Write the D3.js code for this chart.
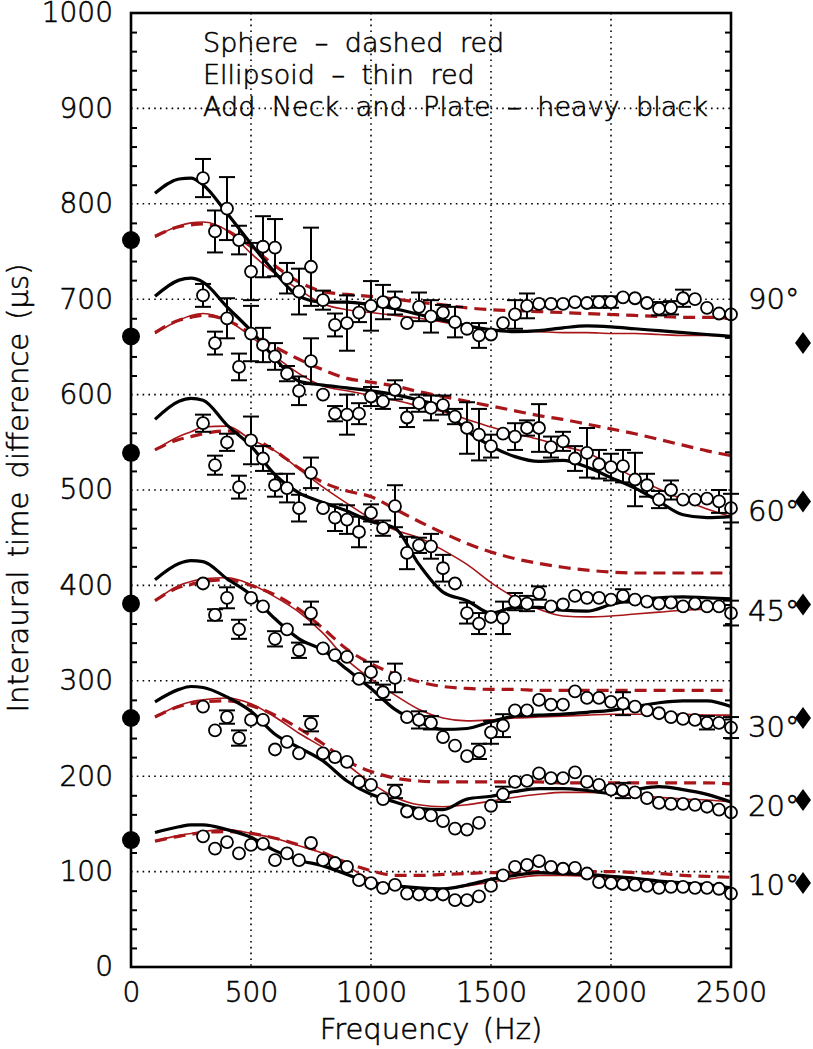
<!DOCTYPE html>
<html>
<head>
<meta charset="utf-8">
<script src="https://cdn.jsdelivr.net/npm/d3@7"></script>
<style>
  body { margin: 0; background: #fff; }
  text { font-family: "DejaVu Sans", sans-serif; font-weight: 200; fill: #000; stroke: #000; stroke-width: 0.55px; }
</style>
</head>
<body>
<div id="chart"></div>
<script>
// model curves sampled at these frequencies (Hz)
const modelFreq = [100, 200, 250, 300, 400, 500, 600, 700, 800, 900, 1000, 1100, 1200, 1300, 1400, 1500, 1600, 1700, 1800, 1900, 2000, 2100, 2200, 2300, 2400, 2500];
// measured points
const dataFreq = [300, 350, 400, 450, 500, 550, 600, 650, 700, 750, 800, 850, 900, 950, 1000, 1050, 1100, 1150, 1200, 1250, 1300, 1350, 1400, 1450, 1500, 1550, 1600, 1650, 1700, 1750, 1800, 1850, 1900, 1950, 2000, 2050, 2100, 2150, 2200, 2250, 2300, 2350, 2400, 2450, 2500];

const angles = ["90°", "60°", "45°", "30°", "20°", "10°"];

// heavy black: ellipsoid + neck and plate
const neck90 = [811, 826, 827, 820, 790, 758, 728, 703, 697, 697, 694, 690, 684, 678, 672, 668, 666, 667, 670, 672, 671, 669, 667, 665, 663, 661];
const neck60 = [703, 720, 722, 718, 692, 667, 638, 614, 610, 607, 604, 600, 594, 586, 562, 546, 535, 530, 531, 524, 513, 502, 488, 474, 471, 472];
const neck45 = [574, 593, 596, 594, 568, 546, 516, 497, 487, 478, 467, 460, 422, 393, 384, 371, 377, 377, 374, 373, 380, 385, 387, 388, 387, 386];
const neck30 = [406, 423, 426, 425, 407, 390, 365, 344, 332, 312, 292, 270, 257, 249, 250, 257, 263, 264, 265, 267, 269, 273, 277, 279, 279, 273];
const neck20 = [278, 291, 294, 293, 283, 268, 244, 230, 216, 195, 181, 173, 166, 165, 176, 179, 184, 187, 187, 185, 182, 186, 189, 186, 181, 173];
const neck10 = [141, 147, 149, 149, 144, 136, 122, 112, 106, 97, 88, 85, 83, 82, 86, 92, 96, 99, 98, 97, 95, 93, 90, 88, 86, 83];

// thin red: ellipsoid
const ellip90 = [765, 777, 780, 781, 772, 748, 727, 710, 695, 689, 686, 683, 680, 676, 672, 668, 667, 666, 665, 665, 664, 664, 663, 662, 662, 661];
const ellip60 = [664, 678, 683, 685, 678, 661, 640, 622, 609, 604, 599, 594, 588, 582, 574, 566, 559, 553, 546, 539, 526, 513, 501, 490, 480, 472];
const ellip45 = [542, 556, 561, 566, 567, 553, 541, 522, 503, 486, 470, 458, 450, 437, 422, 403, 387, 375, 368, 367, 368, 370, 372, 374, 375, 376];
const ellip30 = [384, 400, 404, 407, 408, 401, 388, 372, 350, 322, 302, 285, 270, 261, 258, 259, 261, 262, 263, 264, 265, 265, 265, 265, 264, 264];
const ellip20 = [262, 274, 278, 280, 282, 276, 262, 245, 230, 212, 193, 178, 170, 168, 170, 174, 178, 181, 183, 183, 182, 180, 178, 176, 175, 173];
const ellip10 = [132, 138, 140, 142, 144, 140, 135, 127, 119, 106, 91, 85, 83, 82, 85, 89, 93, 96, 96, 95, 93, 90, 87, 85, 84, 82];

// dashed red: sphere
const sphere90 = [766, 776, 778, 779, 772, 755, 735, 718, 708, 705, 703, 700, 697, 694, 691, 689, 688, 687, 686, 685, 684, 683, 682, 681, 681, 680];
const sphere60 = [665, 678, 681, 683, 678, 664, 650, 637, 626, 617, 613, 609, 603, 598, 593, 588, 583, 578, 574, 569, 564, 559, 553, 547, 541, 536];
const sphere45 = [542, 553, 556, 559, 562, 555, 541, 523, 508, 499, 493, 480, 467, 455, 444, 435, 428, 423, 419, 416, 414, 413, 413, 413, 413, 413];
const sphere30 = [384, 398, 401, 404, 406, 400, 390, 375, 355, 333, 318, 307, 299, 294, 292, 291, 291, 290, 290, 290, 290, 290, 290, 290, 290, 290];
const sphere20 = [262, 273, 276, 278, 279, 274, 264, 250, 234, 216, 205, 198, 195, 194, 194, 194, 194, 194, 193, 193, 193, 193, 193, 193, 193, 192];
const sphere10 = [132, 137, 139, 141, 142, 140, 135, 128, 120, 109, 101, 96, 96, 97, 98, 99, 99, 100, 100, 100, 100, 99, 98, 96, 95, 94];

// measured ITD (open circles) and error bars
const itd90 = [827, 771, 795, 762, 729, 755, 754, 722, 708, 734, 699, 673, 675, 686, 693, 697, 696, 675, 692, 682, 686, 676, 669, 662, 663, 675, 684, 693, 695, 695, 695, 697, 696, 697, 697, 702, 701, 696, 690, 691, 701, 700, 691, 685, 684];
const err90 = [20, 22, 33, 15, 30, 32, 30, 16, 24, 41, 10, 12, 29, 10, 26, 18, 12, 0, 15, 17, 8, 16, 0, 13, 0, 0, 15, 13, 0, 0, 0, 0, 0, 6, 6, 0, 0, 0, 7, 7, 9, 0, 0, 0, 0];
const itd60 = [704, 654, 680, 629, 664, 652, 640, 622, 604, 635, 600, 580, 579, 580, 598, 593, 605, 576, 591, 586, 589, 577, 565, 558, 546, 559, 556, 565, 565, 545, 551, 533, 539, 527, 524, 525, 511, 505, 490, 500, 490, 490, 491, 488, 481];
const err60 = [12, 12, 21, 14, 29, 18, 14, 8, 15, 24, 0, 8, 21, 11, 10, 8, 10, 10, 9, 13, 10, 8, 27, 27, 12, 0, 14, 8, 25, 11, 10, 13, 26, 15, 14, 17, 28, 12, 9, 10, 0, 0, 0, 12, 15];
const itd45 = [570, 526, 550, 503, 552, 533, 505, 502, 481, 518, 481, 471, 469, 456, 476, 460, 483, 434, 442, 441, 418, 402, 371, 360, 367, 366, 383, 381, 392, 378, 380, 389, 387, 387, 385, 389, 385, 383, 381, 382, 378, 381, 378, 378, 371];
const err45 = [9, 10, 9, 12, 25, 13, 12, 15, 14, 16, 0, 14, 15, 16, 9, 8, 22, 17, 8, 13, 14, 0, 11, 11, 0, 17, 9, 8, 7, 0, 0, 0, 0, 0, 0, 7, 0, 0, 0, 0, 0, 0, 0, 0, 13];
const itd30 = [402, 369, 387, 354, 387, 378, 344, 354, 332, 371, 334, 327, 325, 302, 309, 288, 303, 262, 259, 256, 241, 232, 221, 226, 246, 253, 269, 269, 280, 275, 275, 289, 282, 282, 278, 276, 273, 269, 266, 262, 260, 259, 256, 256, 251];
const err30 = [0, 6, 11, 10, 0, 0, 8, 0, 8, 12, 0, 0, 0, 0, 11, 8, 15, 0, 9, 7, 0, 0, 0, 8, 12, 12, 0, 0, 0, 0, 0, 0, 0, 0, 0, 12, 0, 0, 0, 0, 0, 0, 7, 0, 11];
const itd20 = [273, 248, 262, 240, 259, 259, 228, 236, 224, 255, 224, 220, 215, 194, 191, 176, 184, 163, 161, 159, 153, 145, 144, 151, 169, 181, 194, 195, 203, 198, 198, 204, 194, 191, 186, 185, 183, 177, 172, 171, 171, 170, 168, 165, 162];
const err20 = [0, 0, 7, 8, 0, 0, 0, 0, 0, 8, 0, 0, 0, 0, 0, 0, 7, 0, 0, 0, 0, 0, 0, 0, 0, 8, 0, 0, 0, 0, 0, 0, 0, 0, 0, 8, 0, 0, 0, 0, 0, 0, 0, 0, 0];
const itd10 = [137, 124, 131, 119, 128, 129, 112, 119, 112, 130, 112, 109, 105, 91, 88, 83, 86, 77, 76, 76, 76, 70, 70, 74, 85, 96, 105, 107, 111, 105, 103, 104, 98, 89, 88, 87, 86, 85, 83, 84, 84, 83, 83, 82, 77];
const err10 = [];

// low-frequency limit (filled circles at 0 Hz) and high-frequency limit (diamonds)
const lowLimit = [762, 661, 539, 381, 261, 133];
const highLimit = [654, 488, 380, 261, 175, 88];
// where each angle label sits (µs)
const labelAt = [700, 478, 373, 252, 169, 86];

const xTicks = [0, 500, 1000, 1500, 2000, 2500];
const yTicks = [0, 100, 200, 300, 400, 500, 600, 700, 800, 900, 1000];
const legendLines = ["Sphere – dashed red", "Ellipsoid – thin red", "Add Neck and Plate – heavy black"];

const groups = angles.map((a, i) => ({
    angle: a,
    neck: [neck90, neck60, neck45, neck30, neck20, neck10][i],
    ellip: [ellip90, ellip60, ellip45, ellip30, ellip20, ellip10][i],
    sphere: [sphere90, sphere60, sphere45, sphere30, sphere20, sphere10][i],
    itd: [itd90, itd60, itd45, itd30, itd20, itd10][i],
    err: [err90, err60, err45, err30, err20, err10][i],
    low: lowLimit[i],
    high: highLimit[i],
    labelAt: labelAt[i]
}));

const RED = "#a8161a";

let margin = { top: 13, right: 82, bottom: 82, left: 131 },
    width = 813 - margin.left - margin.right,
    height = 1049 - margin.top - margin.bottom;

const svg = d3.select("#chart")
    .append("svg")
    .attr("width", width + margin.left + margin.right)
    .attr("height", height + margin.top + margin.bottom)
    .append("g")
    .attr("transform", `translate(${margin.left}, ${margin.top})`);

const x = d3.scaleLinear().domain([0, 2500]).range([0, width]);
const y = d3.scaleLinear().domain([0, 1000]).range([height, 0]);

/* grid */
svg.append("g")
    .selectAll("line")
    .data(yTicks.slice(1, -1))
    .enter().append("line")
    .attr("x1", 0).attr("x2", width)
    .attr("y1", d => y(d)).attr("y2", d => y(d))
    .attr("stroke", "#000").attr("stroke-width", 1.6)
    .attr("stroke-dasharray", "1.6,4.2");
svg.append("g")
    .selectAll("line")
    .data(xTicks.slice(1, -1))
    .enter().append("line")
    .attr("y1", 0).attr("y2", height)
    .attr("x1", d => x(d)).attr("x2", d => x(d))
    .attr("stroke", "#000").attr("stroke-width", 1.6)
    .attr("stroke-dasharray", "1.6,4.2");

/* minor ticks on both vertical axes, pointing inward */
const minor = d3.range(0, 1001, 20).filter(d => d % 100 !== 0);
svg.append("g")
    .call(d3.axisLeft(y).tickValues(minor).tickSize(-6).tickFormat(""))
    .call(g => g.select(".domain").remove())
    .selectAll("line").attr("stroke-width", 2);
svg.append("g")
    .attr("transform", `translate(${width}, 0)`)
    .call(d3.axisRight(y).tickValues(minor).tickSize(-6).tickFormat(""))
    .call(g => g.select(".domain").remove())
    .selectAll("line").attr("stroke-width", 2);

/* axis labels */
svg.append("g")
    .call(d3.axisLeft(y).tickValues(yTicks).tickSize(0).tickPadding(18).tickFormat(d3.format("d")))
    .call(g => g.select(".domain").remove())
    .selectAll("text")
    .style("font-size", "28px");
svg.append("g")
    .attr("transform", `translate(0, ${height})`)
    .call(d3.axisBottom(x).tickValues(xTicks).tickSize(0).tickPadding(15).tickFormat(d3.format("d")))
    .call(g => g.select(".domain").remove())
    .selectAll("text")
    .style("font-size", "28px");

svg.append("text")
    .attr("text-anchor", "middle")
    .attr("x", width / 2)
    .attr("y", height + 72)
    .style("font-size", "29px")
    .style("word-spacing", "4px")
    .text("Frequency (Hz)");

svg.append("text")
    .attr("text-anchor", "middle")
    .attr("transform", "rotate(-90)")
    .attr("x", -475)
    .attr("y", -103)
    .style("font-size", "29px")
    .style("word-spacing", "4px")
    .text("Interaural time difference (µs)");

/* legend text */
svg.append("g")
    .selectAll("text")
    .data(legendLines)
    .enter().append("text")
    .attr("x", 72)
    .attr("y", (d, i) => 39 + i * 32)
    .style("font-size", "27px")
    .style("word-spacing", "8px")
    .text(d => d);

/* model curves */
const line = vals => d3.line()
    .x((d, i) => x(modelFreq[i]))
    .y(d => y(d))
    .curve(d3.curveMonotoneX)(vals);

const curves = svg.append("g");
groups.forEach(g => {
    curves.append("path")
        .attr("d", line(g.sphere))
        .attr("fill", "none").attr("stroke", RED)
        .attr("stroke-width", 3.2).attr("stroke-dasharray", "12,7");
    curves.append("path")
        .attr("d", line(g.ellip))
        .attr("fill", "none").attr("stroke", RED)
        .attr("stroke-width", 1.6);
    curves.append("path")
        .attr("d", line(g.neck))
        .attr("fill", "none").attr("stroke", "#000")
        .attr("stroke-width", 3.2);
});

/* measured data with error bars */
groups.forEach(g => {
    const pts = g.itd.map((v, i) => ({ f: dataFreq[i], v: v, e: g.err[i] || 0 }));
    const bars = svg.append("g").selectAll("g")
        .data(pts.filter(d => d.e > 0))
        .enter().append("g")
        .attr("stroke", "#000").attr("stroke-width", 2);
    bars.append("line")
        .attr("x1", d => x(d.f)).attr("x2", d => x(d.f))
        .attr("y1", d => y(d.v - d.e)).attr("y2", d => y(d.v + d.e));
    bars.append("line")
        .attr("x1", d => x(d.f) - 8).attr("x2", d => x(d.f) + 8)
        .attr("y1", d => y(d.v + d.e)).attr("y2", d => y(d.v + d.e));
    bars.append("line")
        .attr("x1", d => x(d.f) - 8).attr("x2", d => x(d.f) + 8)
        .attr("y1", d => y(d.v - d.e)).attr("y2", d => y(d.v - d.e));

    svg.append("g").selectAll("circle")
        .data(pts)
        .enter().append("circle")
        .attr("cx", d => x(d.f))
        .attr("cy", d => y(d.v))
        .attr("r", 6)
        .attr("fill", "#fff")
        .attr("stroke", "#000")
        .attr("stroke-width", 1.8);
});

/* frame */
svg.append("rect")
    .attr("width", width).attr("height", height)
    .attr("fill", "none").attr("stroke", "#000").attr("stroke-width", 2.6);

/* low-frequency limits on the left axis */
svg.append("g").selectAll("circle")
    .data(groups)
    .enter().append("circle")
    .attr("cx", x(0))
    .attr("cy", d => y(d.low))
    .attr("r", 9)
    .attr("fill", "#000");

/* high-frequency limits, right of the frame */
svg.append("g").selectAll("path")
    .data(groups)
    .enter().append("path")
    .attr("d", d => {
        const cx = width + 72, cy = y(d.high);
        return `M${cx},${cy - 11}L${cx + 8},${cy}L${cx},${cy + 11}L${cx - 8},${cy}Z`;
    })
    .attr("fill", "#000");

/* angle labels */
svg.append("g").selectAll("text")
    .data(groups)
    .enter().append("text")
    .attr("x", width + 17)
    .attr("y", d => y(d.labelAt) + 10)
    .style("font-size", "29px")
    .text(d => d.angle);
</script>
</body>
</html>
